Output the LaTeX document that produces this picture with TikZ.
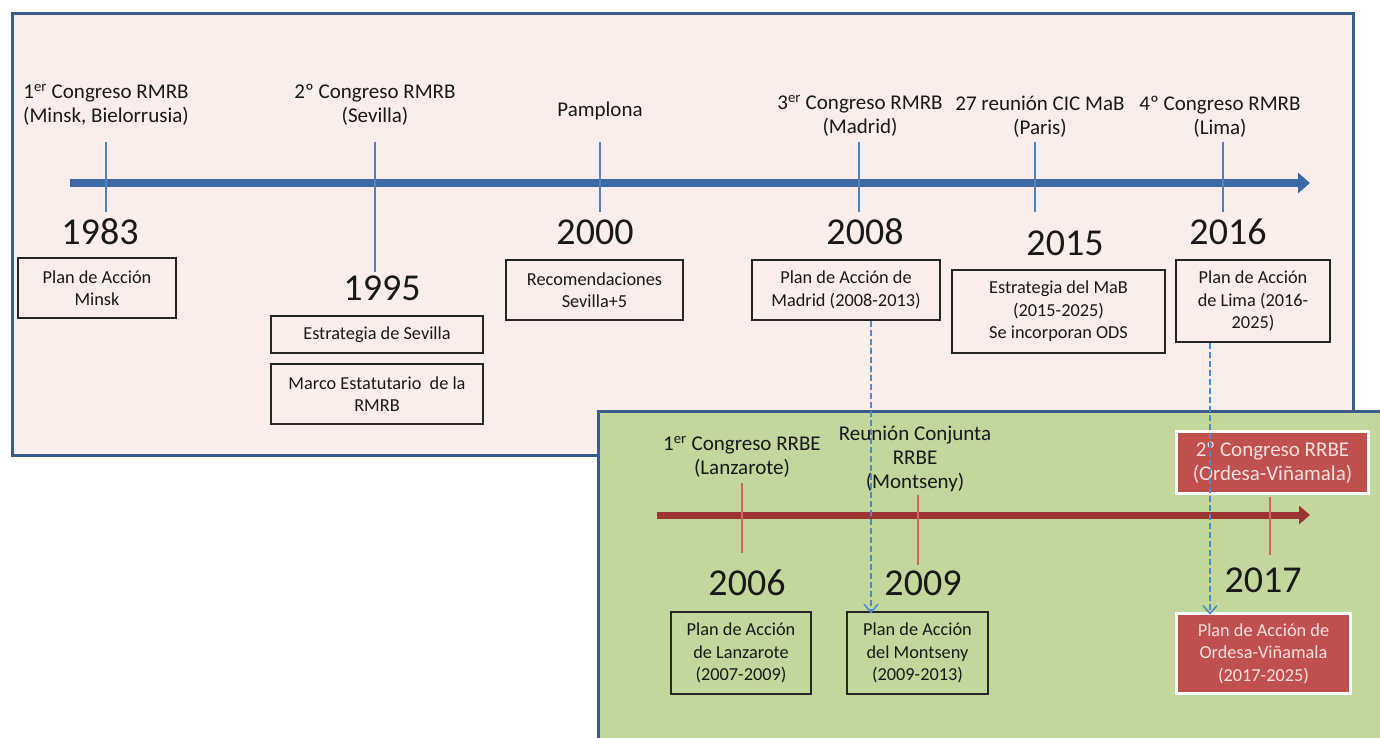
\documentclass[tikz,border=0pt]{standalone}
\usepackage{fontspec}
\setmainfont{Carlito}
\usetikzlibrary{arrows.meta}
\definecolor{pinkfill}{RGB}{250,238,237}
\definecolor{frameblue}{RGB}{56,93,138}
\definecolor{lineblue}{RGB}{60,105,165}
\definecolor{tickblue}{RGB}{79,129,189}
\definecolor{greenfill}{RGB}{195,214,155}
\definecolor{linered}{RGB}{155,52,50}
\definecolor{tickred}{RGB}{200,105,95}
\definecolor{boxred}{RGB}{192,80,77}
\definecolor{redtext}{RGB}{245,225,224}
\definecolor{dashblue}{RGB}{70,140,210}
\definecolor{txt}{RGB}{25,25,25}
\tikzset{
  lbl/.style={align=center, text=txt, inner sep=0pt, font=\fontsize{21}{24}\selectfont},
  yr/.style={text=txt, inner sep=0pt, font=\fontsize{38}{42}\selectfont},
  plainbox/.style={draw=black!85, line width=1.3pt, align=center, text=txt, inner sep=0pt, font=\fontsize{18.3}{22.5}\selectfont},
  redbox/.style={draw=white, fill=boxred, line width=3.5pt, align=center, text=redtext, inner sep=0pt, font=\fontsize{18.3}{22.5}\selectfont},
  tickb/.style={draw=tickblue, line width=1.1pt},
  tickr/.style={draw=tickred, line width=1.1pt},
  dasharrow/.style={draw=dashblue, line width=1.6pt, dash pattern=on 6pt off 3pt, -{Straight Barb[length=8pt,width=14pt,line width=1.5pt]}},
}
\begin{document}
\begin{tikzpicture}[x=1pt,y=-1pt]
\useasboundingbox (0,0) rectangle (1380,738);
\clip (0,0) rectangle (1380,738);
\fill[white] (0,0) rectangle (1380,738);
% pink frame
\draw[fill=pinkfill, draw=frameblue, line width=3pt] (12,14) rectangle (1353,455);
% blue timeline
\coordinate (bstart) at (70,183);
\coordinate (bend) at (1310,183);
\draw[lineblue, line width=8pt, -{Triangle[length=12pt,width=20pt]}] (bstart) -- (bend);
% blue ticks
\draw[tickb] (106,142) -- (106,212);
\draw[tickb] (375,142) -- (375,272);
\draw[tickb] (600,142) -- (600,212);
\draw[tickb] (859,142) -- (859,212);
\draw[tickb] (1035,142) -- (1035,212);
\draw[tickb] (1223,142) -- (1223,212);
% upper labels
\node[lbl] (l1983) at (106,105) {1\textsuperscript{er} Congreso RMRB\\(Minsk, Bielorrusia)};
\node[lbl] (l1995) at (375,105) {2º Congreso RMRB\\(Sevilla)};
\node[lbl] (lpamp) at (600,111) {Pamplona};
\node[lbl] (lmad) at (860,116) {3\textsuperscript{er} Congreso RMRB\\(Madrid)};
\node[lbl] (lpar) at (1040,117) {27 reunión CIC MaB\\(Paris)};
\node[lbl] (llima) at (1220,117) {4º Congreso RMRB\\(Lima)};
% years
\node[yr] (y1983) at (100,232) {1983};
\node[yr] (y1995) at (382,288) {1995};
\node[yr] (y2000) at (595,232) {2000};
\node[yr] (y2008) at (865,232) {2008};
\node[yr] (y2015) at (1065,243) {2015};
\node[yr] (y2016) at (1228,232) {2016};
% boxes upper
\node[plainbox, minimum width=158pt, minimum height=60pt] (minsk) at (97,288) {Plan de Acción\\Minsk};
\node[plainbox, minimum width=212pt, minimum height=37pt] (estr) at (377,334.5) {Estrategia de Sevilla};
\node[plainbox, minimum width=212pt, minimum height=60pt] (marco) at (377,394) {Marco Estatutario\ \ de la\\RMRB};
\node[plainbox, minimum width=177pt, minimum height=60pt] (recom) at (594.5,290) {Recomendaciones\\Sevilla+5};
\node[plainbox, minimum width=188pt, minimum height=60pt] (madrid) at (846,290) {Plan de Acción de\\Madrid (2008-2013)};
\node[plainbox, minimum width=213pt, minimum height=83pt] (mab) at (1058.5,311.5) {Estrategia del MaB\\(2015-2025)\\Se incorporan ODS};
\node[plainbox, minimum width=154pt, minimum height=82pt] (lima) at (1253,301) {Plan de Acción\\de Lima (2016-\\2025)};
% green frame
\draw[fill=greenfill, draw=frameblue, line width=3pt] (598,411) rectangle (1400,760);
% red timeline
\coordinate (rstart) at (657,515);
\coordinate (rend) at (1310,515);
\draw[linered, line width=7pt, -{Triangle[length=11pt,width=18pt]}] (rstart) -- (rend);
% red ticks
\draw[tickr] (742,483) -- (742,553);
\draw[tickr] (918,495) -- (918,565);
\draw[tickr] (1270,497) -- (1270,555);
% green labels
\node[lbl] (llanz) at (742,457) {1\textsuperscript{er} Congreso RRBE\\(Lanzarote)};
\node[lbl] (lmont) at (915,459) {Reunión Conjunta\\RRBE\\(Montseny)};
\node[redbox, minimum width=192pt, minimum height=62pt, font=\fontsize{21}{24}\selectfont] (ordcong) at (1272.5,462.5) {2º Congreso RRBE\\(Ordesa-Viñamala)};
% green years
\node[yr] (y2006) at (747,583) {2006};
\node[yr] (y2009) at (923,583) {2009};
\node[yr] (y2017) at (1263,580) {2017};
% green boxes
\node[plainbox, minimum width=140pt, minimum height=82pt] (lanz) at (741,653) {Plan de Acción\\de Lanzarote\\(2007-2009)};
\node[plainbox, minimum width=141pt, minimum height=82pt] (mont) at (917.5,653) {Plan de Acción\\del Montseny\\(2009-2013)};
\node[redbox, minimum width=174pt, minimum height=80pt] (ordplan) at (1263.5,653.5) {Plan de Acción de\\Ordesa-Viñamala\\(2017-2025)};
% dashed arrows
\coordinate (dx1) at (871,0);
\coordinate (dx2) at (1210,0);
\draw[dasharrow] (madrid.south -| dx1) -- ([yshift=-2pt]mont.north -| dx1);
\draw[dasharrow] (lima.south -| dx2) -- ([yshift=-3pt]ordplan.north -| dx2);
\end{tikzpicture}
\end{document}
